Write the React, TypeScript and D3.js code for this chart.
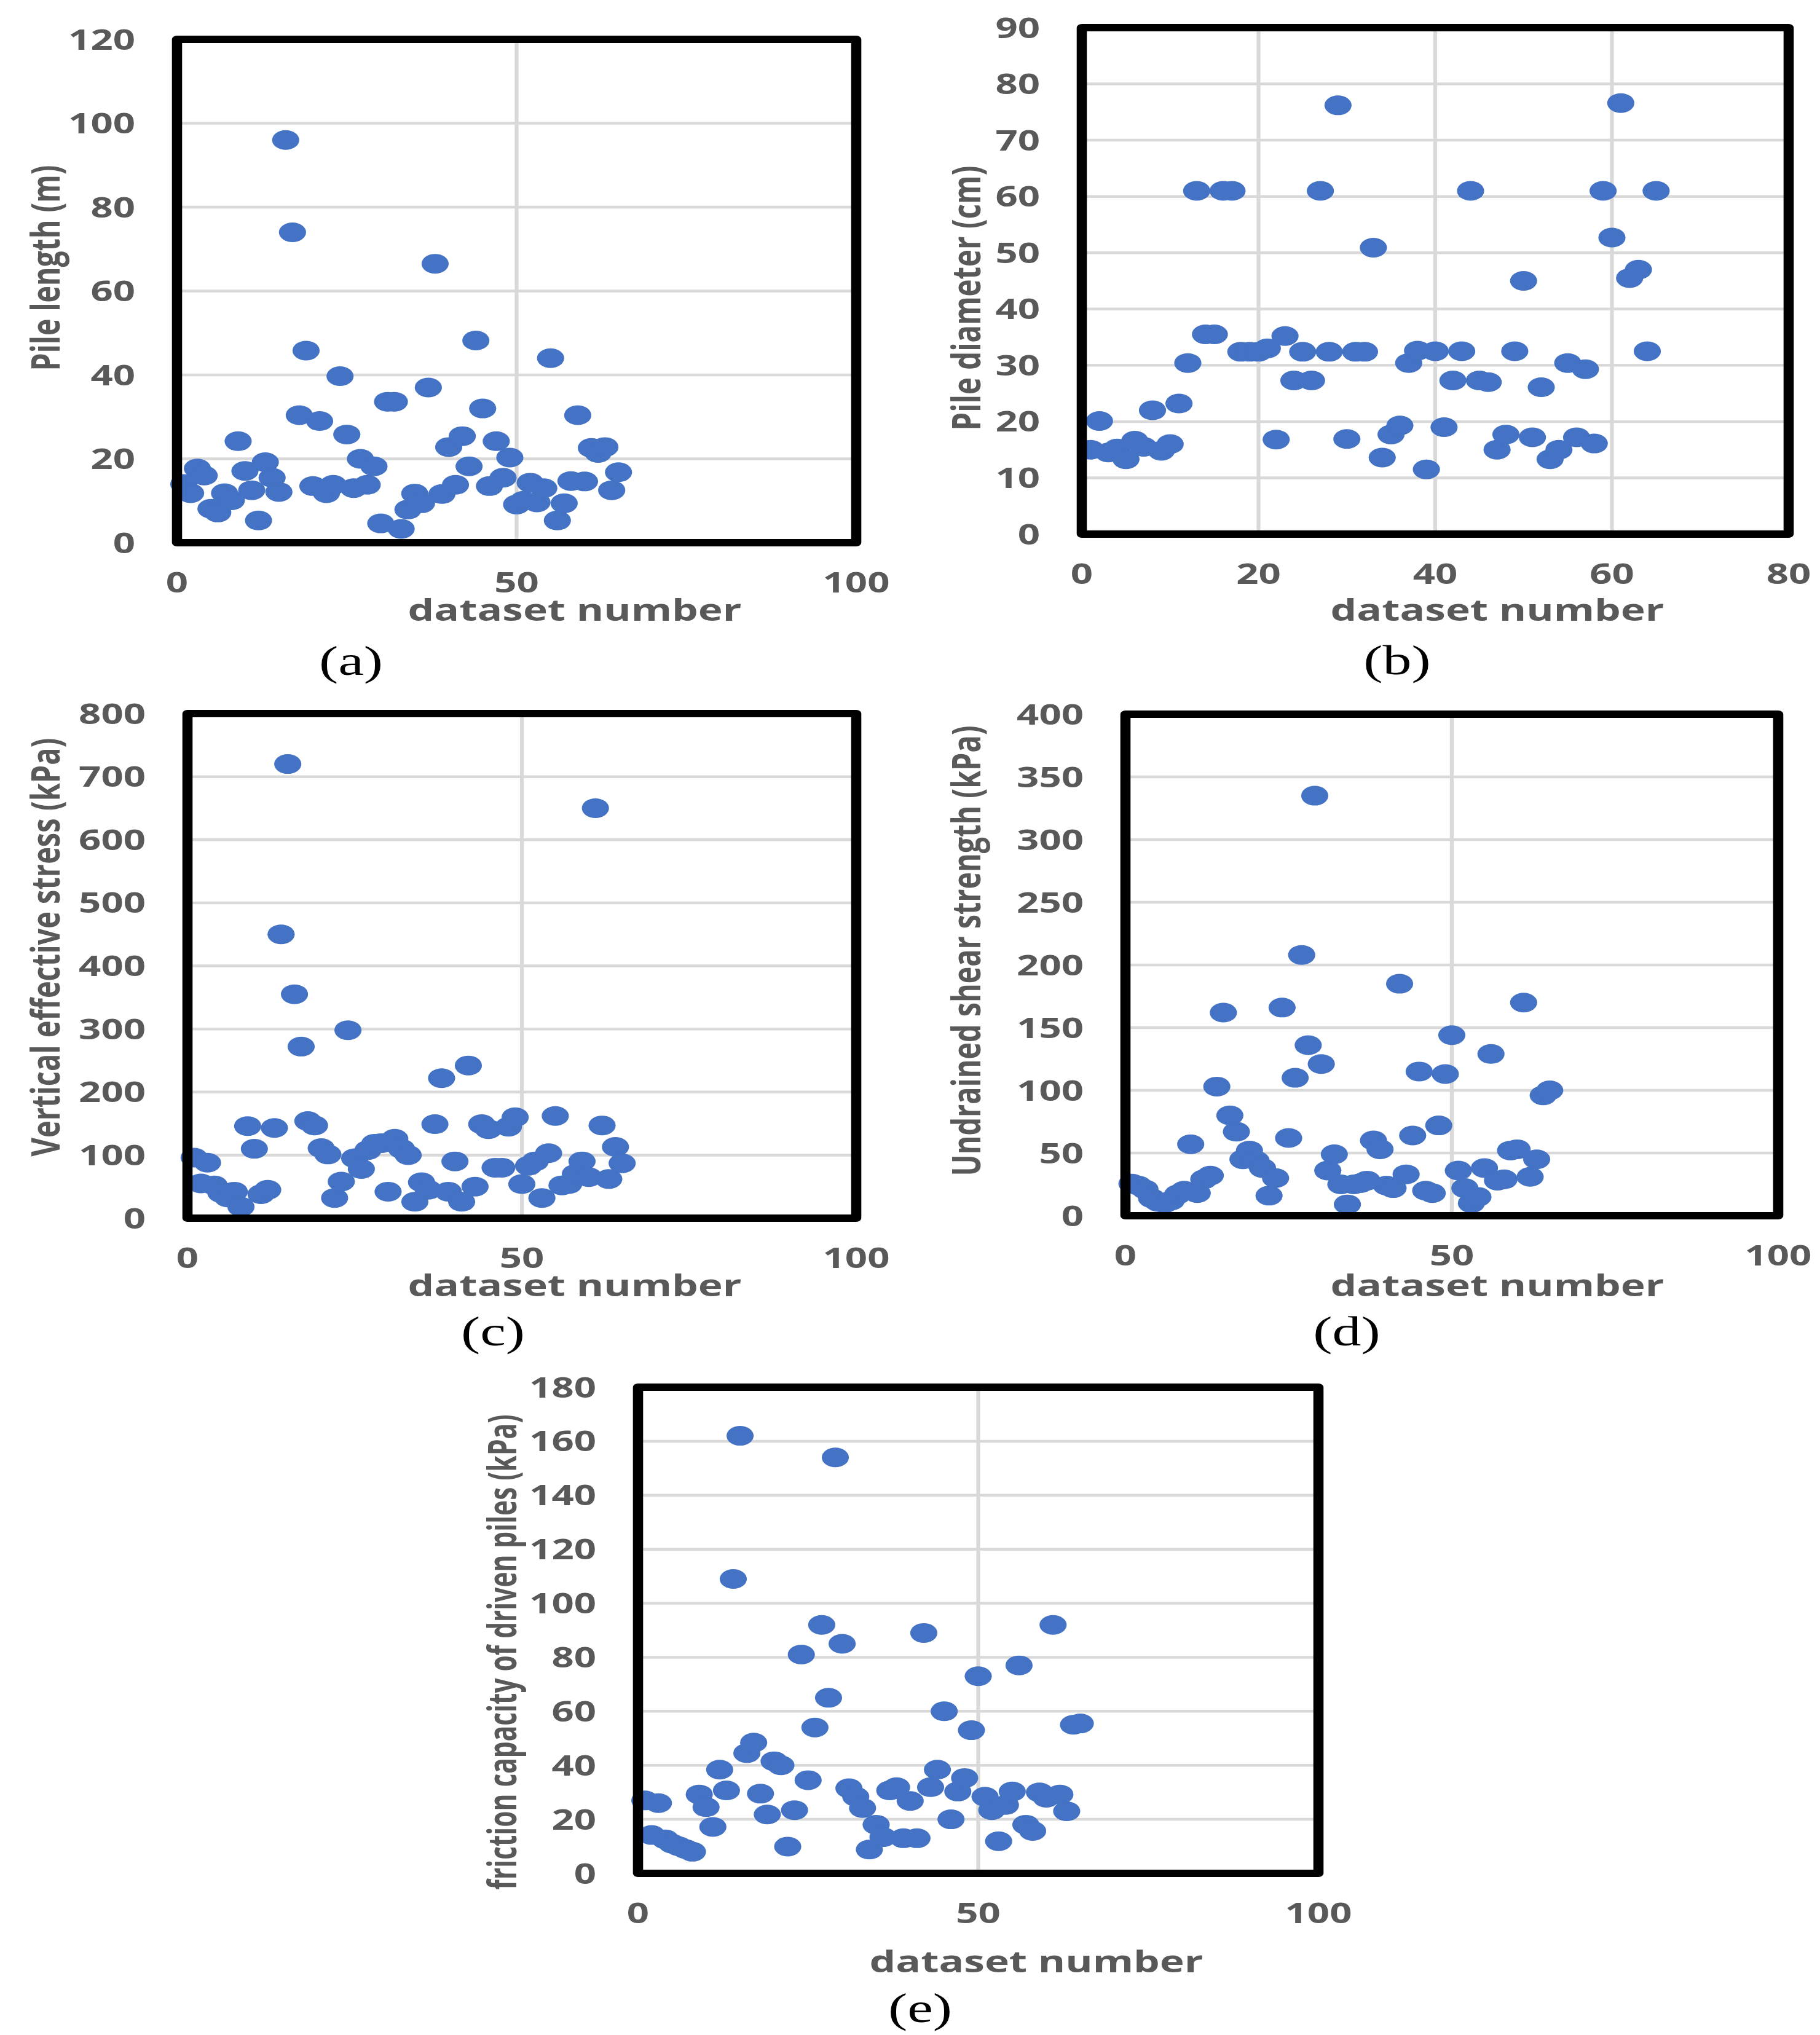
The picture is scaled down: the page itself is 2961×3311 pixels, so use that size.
import React from 'react';
import * as d3 from 'd3';

const W = 2961;
const H = 3311;
const SX = 1.38; // the original figure is stretched horizontally

const datasetNumbers = d3.range(1, 66);

const pileLength = [
  14.0, 11.8, 17.7, 16.0, 8.1, 7.2, 11.8, 10.1, 24.2, 17.1,
  12.5, 5.3, 19.2, 15.5, 12.1, 96, 74, 30.4, 45.8, 13.5,
  29, 11.8, 13.8, 39.7, 25.8, 13.0, 20, 13.8, 18.2, 4.6,
  33.6, 33.6, 3.3, 7.9, 11.7, 9.4, 37, 66.5, 11.6, 22.8,
  13.8, 25.4, 18.2, 48.2, 32, 13.5, 24.2, 15.5, 20.3, 9.1,
  10, 14.3, 9.6, 13, 44, 5.3, 9.4, 14.7, 30.4, 14.6,
  22.6, 21.4, 22.8, 12.5, 16.8,
];

const pileDiameter = [
  15.0, 20.1, 14.5, 15.2, 13.3, 16.6, 15.5, 22.0, 14.8, 16.0,
  23.2, 30.4, 61, 35.5, 35.5, 61, 61, 32.4, 32.4, 32.4,
  33.0, 16.8, 35.2, 27.3, 32.4, 27.3, 61, 32.4, 76.2, 16.9,
  32.4, 32.4, 50.9, 13.6, 17.7, 19.3, 30.4, 32.6, 11.5, 32.5,
  19.0, 27.3, 32.5, 61, 27.3, 27.0, 15.0, 17.7, 32.5, 45,
  17.2, 26.1, 13.3, 15.0, 30.4, 17.2, 29.3, 16.1, 61, 52.7,
  76.6, 45.5, 47, 32.5, 61,
];

const verticalStress = [
  96, 55, 88, 52, 40, 33, 42, 18, 146, 110,
  38, 45, 143, 450, 720, 355, 272, 154, 147, 111,
  101, 32, 58, 298, 95, 78, 108, 118, 119, 42,
  126, 110, 100, 26, 57, 45, 149, 222, 42, 90,
  26, 242, 50, 149, 141, 80, 80, 145, 160, 54,
  83, 90, 32, 103, 162, 52, 54, 70, 90, 65,
  650, 147, 62, 113, 87,
];

const shearStrength = [
  25.6, 24, 21, 14, 11, 10, 12, 17, 20, 57,
  18, 29, 32, 103, 162, 80, 67, 45, 52, 44,
  38, 16, 30, 166, 62, 110, 208, 136, 335, 121,
  36, 49, 25, 9, 25, 26, 28, 60, 53, 24,
  22, 185, 33, 64, 115, 20, 18, 72, 113, 144,
  36, 22, 10, 15, 38, 129, 28, 29, 52, 53,
  170, 31, 45, 96, 100,
];

const frictionCapacity = [
  27, 14.2, 26, 12.6, 11, 10, 9, 8, 29.2, 24.5,
  17.2, 38.4, 30.7, 109, 162, 44.5, 48.4, 29.5, 21.8, 41.5,
  40, 9.9, 23.4, 81, 34.5, 54, 92, 65, 154, 85,
  31.5, 28.4, 24.2, 8.8, 18, 13.4, 30.7, 31.9, 13, 26.8,
  13, 89, 31.9, 38.4, 60, 20, 30.3, 35.3, 53, 73,
  28.4, 23.4, 11.9, 25.3, 30.3, 77, 18, 15.7, 30, 28,
  92, 29.2, 23, 55, 55.5,
];

const xTicksA = [0, 50, 100];
const xTicksB = [0, 20, 40, 60, 80];
const yTicksA = [0, 20, 40, 60, 80, 100, 120];
const yTicksB = [0, 10, 20, 30, 40, 50, 60, 70, 80, 90];
const yTicksC = [0, 100, 200, 300, 400, 500, 600, 700, 800];
const yTicksD = [0, 50, 100, 150, 200, 250, 300, 350, 400];
const yTicksE = [0, 20, 40, 60, 80, 100, 120, 140, 160, 180];

const yTitles = [
  'Pile length (m)',
  'Pile diameter (cm)',
  'Vertical effective stress (kPa)',
  'Undrained shear strength (kPa)',
  'friction capacity of driven piles (kPa)',
];
const panelLabels = ['(a)', '(b)', '(c)', '(d)', '(e)'];
const xTitle = 'dataset number';

type Panel = {
  values: number[];
  xTicks: number[];
  yTicks: number[];
  x0: number; x1: number; y0: number; y1: number; // frame, full-size pixels
  yTitle: string; yTitleX: number; yTitleY: number; yTitleLen: number;
  label: string; labelX: number; labelY: number;
  titleX: number; titleY: number;
};

const panels: Panel[] = [
  { values: pileLength, xTicks: xTicksA, yTicks: yTicksA, x0: 288, x1: 1393, y0: 883, y1: 64,
    yTitle: yTitles[0], yTitleX: 72, yTitleY: 436, yTitleLen: 335, label: panelLabels[0], labelX: 571, labelY: 1098, titleX: 935, titleY: 1010 },
  { values: pileDiameter, xTicks: xTicksB, yTicks: yTicksB, x0: 1760, x1: 2910, y0: 869, y1: 45,
    yTitle: yTitles[1], yTitleX: 1570, yTitleY: 485, yTitleLen: 431, label: panelLabels[1], labelX: 2273, labelY: 1097, titleX: 2436, titleY: 1010 },
  { values: verticalStress, xTicks: xTicksA, yTicks: yTicksC, x0: 305, x1: 1393, y0: 1982, y1: 1161,
    yTitle: yTitles[2], yTitleX: 72, yTitleY: 1541, yTitleLen: 681, label: panelLabels[2], labelX: 802, labelY: 2189, titleX: 935, titleY: 2109 },
  { values: shearStrength, xTicks: xTicksA, yTicks: yTicksD, x0: 1831, x1: 2893, y0: 1978, y1: 1162,
    yTitle: yTitles[3], yTitleX: 1570, yTitleY: 1547, yTitleLen: 733, label: panelLabels[3], labelX: 2191, labelY: 2189, titleX: 2436, titleY: 2109 },
  { values: frictionCapacity, xTicks: xTicksA, yTicks: yTicksE, x0: 1038, x1: 2145, y0: 3048, y1: 2257,
    yTitle: yTitles[4], yTitleX: 815, yTitleY: 2688, yTitleLen: 773, label: panelLabels[4], labelX: 1497, labelY: 3290, titleX: 1686, titleY: 3209 },
];

const GRAY = '#595959';
const GRID = '#d9d9d9';
const BLUE = '#4472C4';
const FONT = "'Open Sans', 'Noto Sans', sans-serif";

function PanelView({ p }: { p: Panel }) {
  const xMax = p.xTicks[p.xTicks.length - 1];
  const yMax = p.yTicks[p.yTicks.length - 1];
  const x = d3.scaleLinear().domain([0, xMax]).range([p.x0 / SX, p.x1 / SX]);
  const y = d3.scaleLinear().domain([0, yMax]).range([p.y0, p.y1]);
  const left = x(0), right = x(xMax), top = y(yMax), bottom = y(0);
  return (
    <g>
      {p.yTicks.slice(1, -1).map((t) => (
        <line key={'gy' + t} x1={left} x2={right} y1={y(t)} y2={y(t)} stroke={GRID} strokeWidth={4.5} />
      ))}
      {p.xTicks.slice(1, -1).map((t) => (
        <line key={'gx' + t} x1={x(t)} x2={x(t)} y1={top} y2={bottom} stroke={GRID} strokeWidth={4.5} />
      ))}
      {p.values.map((v, i) => (
        <circle key={'pt' + i} cx={x(datasetNumbers[i])} cy={y(v)} r={16} fill={BLUE} />
      ))}
      <rect x={left} y={top} width={right - left} height={bottom - top} fill="none" stroke="#000" strokeWidth={12} strokeLinejoin="round" />
      {p.yTicks.map((t) => (
        <text key={'ty' + t} x={left - 68 / SX} y={y(t)} dy="0.36em" textAnchor="end" fontFamily={FONT} fontWeight={700} fontSize={46} fill={GRAY}>{t}</text>
      ))}
      {p.xTicks.map((t) => (
        <text key={'tx' + t} x={x(t)} y={bottom + 81} textAnchor="middle" fontFamily={FONT} fontWeight={700} fontSize={46} fill={GRAY}>{t}</text>
      ))}
      <text x={p.titleX / SX} y={p.titleY} textAnchor="middle" fontFamily={FONT} fontWeight={700} fontSize={49} fill={GRAY}>{xTitle}</text>
      <text transform={`translate(${p.yTitleX / SX},${p.yTitleY}) rotate(-90)`} textAnchor="middle" dominantBaseline="central" fontFamily={FONT} fontWeight={700} fontSize={47} fill={GRAY} textLength={p.yTitleLen} lengthAdjust="spacingAndGlyphs">{p.yTitle}</text>
      <text x={p.labelX / SX} y={p.labelY} textAnchor="middle" fontFamily="'Liberation Serif', 'Times New Roman', serif" fontSize={68} fill="#000">{p.label}</text>
    </g>
  );
}

export default function App() {
  return (
    <svg width={W} height={H} viewBox={`0 0 ${W} ${H}`} style={{ position: 'absolute', left: 0, top: 0, display: 'block' }}>
      <rect x={0} y={0} width={W} height={H} fill="#fff" />
      <g transform={`scale(${SX},1)`}>
        {panels.map((p, i) => <PanelView key={i} p={p} />)}
      </g>
    </svg>
  );
}
